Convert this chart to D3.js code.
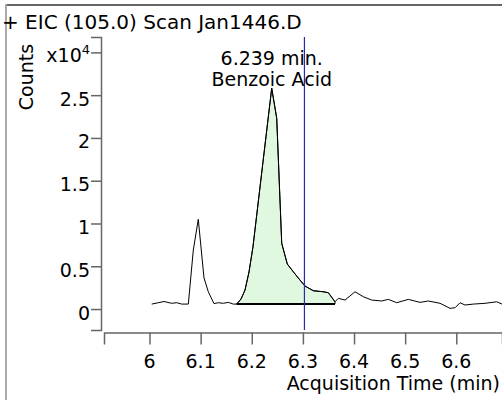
<!DOCTYPE html>
<html>
<head>
<meta charset="utf-8">
<script src="https://cdn.jsdelivr.net/npm/d3@7"></script>
<style>
  html, body { margin: 0; padding: 0; background: #fff; }
  svg { display: block; }
  text { font-family: "DejaVu Sans", Verdana, sans-serif; fill: #000; }
</style>
</head>
<body>
<svg id="chart" width="502" height="400"></svg>
<script>
// ---- data ----
const title = "+ EIC (105.0) Scan Jan1446.D";
const xLabel = "Acquisition Time (min)";
const yLabel = "Counts";
const xTicks = [6, 6.1, 6.2, 6.3, 6.4, 6.5, 6.6];
const xTickLabels = ["6", "6.1", "6.2", "6.3", "6.4", "6.5", "6.6"];
const yTicks = [0, 5000, 10000, 15000, 20000, 25000];
const yTickLabels = ["0", "0.5", "1", "1.5", "2", "2.5"];
const yExpTick = 30000;
const times = [6.0043, 6.0172, 6.0284, 6.0434, 6.0532, 6.0630, 6.0759, 6.0857, 6.0954, 6.1066,
  6.1150, 6.1261, 6.1346, 6.1443, 6.1541, 6.1639, 6.1705, 6.1790, 6.1868, 6.1946,
  6.2024, 6.2194, 6.2390, 6.2488, 6.2586, 6.2695, 6.2812, 6.2943, 6.3041, 6.3204,
  6.3399, 6.3497, 6.3628, 6.3693, 6.3824, 6.4019, 6.4182, 6.4346, 6.4541, 6.4670,
  6.4835, 6.5062, 6.5290, 6.5453, 6.5682, 6.5877, 6.5975, 6.6073, 6.6170, 6.6333,
  6.6562, 6.6791, 6.6894];
const counts = [580, 740, 880, 670, 740, 580, 580, 6900, 10490, 3630,
  2020, 640, 740, 670, 780, 580, 580, 1170, 2220, 4330,
  7290, 15910, 25810, 22300, 7680, 5260, 4360, 3390, 2690, 2140,
  2020, 1910, 850, 1250, 1050, 2020, 1440, 1050, 940, 1130,
  740, 1130, 780, 940, 670, 80, 150, 740, 470, 580,
  670, 850, 580];
const peakStart = 6.1705, peakEnd = 6.3628, peakBaseline = 600;
const peakTime = 6.239;
const peakLabels = ["6.239 min.", "Benzoic Acid"];
const markerTime = 6.303;

// ---- layout ----
const svg = d3.select("#chart");
const x = d3.scaleLinear().domain([5.911, 6.6894]).range([104, 502]);
const y = d3.scaleLinear().domain([-2450, 31800]).range([330, 37]);
const axisColor = "#666";
const fs = 19;

// frame
svg.append("line").attr("x1", 5).attr("x2", 502).attr("y1", 5).attr("y2", 5)
  .attr("stroke", "#666").attr("stroke-width", 2);
svg.append("line").attr("x1", 6).attr("x2", 6).attr("y1", 4).attr("y2", 400)
  .attr("stroke", "#aaa").attr("stroke-width", 2);

// title
svg.append("text").attr("x", 2).attr("y", 29).attr("font-size", 20).text(title);

const pts = times.map((t, i) => [t, counts[i]]);

// peak fill
const inPeak = pts.filter(p => p[0] >= peakStart - 1e-9 && p[0] <= peakEnd + 1e-9);
const poly = [[peakStart, peakBaseline], ...inPeak, [peakEnd, peakBaseline]];
svg.append("path")
  .attr("d", d3.line().x(d => x(d[0])).y(d => y(d[1]))(poly) + "Z")
  .attr("fill", "#e0f8e0").attr("stroke", "#000").attr("stroke-width", 1);

// trace
svg.append("path")
  .attr("d", d3.line().x(d => x(d[0])).y(d => y(d[1]))(pts))
  .attr("fill", "none").attr("stroke", "#000").attr("stroke-width", 1);

// integration baseline
svg.append("line")
  .attr("x1", x(peakStart)).attr("x2", x(peakEnd))
  .attr("y1", y(peakBaseline)).attr("y2", y(peakBaseline))
  .attr("stroke", "#000").attr("stroke-width", 2);

// marker line
svg.append("line")
  .attr("x1", x(markerTime)).attr("x2", x(markerTime))
  .attr("y1", y.range()[1]).attr("y2", y.range()[0])
  .attr("stroke", "#2a2aa8").attr("stroke-width", 1.2);

// peak annotation
svg.append("text").attr("x", x(peakTime)).attr("y", 65).attr("text-anchor", "middle")
  .attr("font-size", fs).text(peakLabels[0]);
svg.append("text").attr("x", x(peakTime)).attr("y", 86).attr("text-anchor", "middle")
  .attr("font-size", fs).text(peakLabels[1]);

// y axis
const yAxis = d3.axisLeft(y).tickValues([...yTicks, yExpTick]).tickSize(10).tickFormat("");
const gy = svg.append("g").attr("transform", "translate(101,0)").call(yAxis);
gy.select(".domain").attr("stroke", axisColor).attr("stroke-width", 1.5);
gy.selectAll(".tick line").attr("stroke", axisColor).attr("stroke-width", 1.5);
yTicks.forEach((v, i) => {
  svg.append("text").attr("x", 90).attr("y", y(v) + 10.5).attr("text-anchor", "end")
    .attr("font-size", fs).text(yTickLabels[i]);
});
const expT = svg.append("text").attr("x", 90).attr("y", y(yExpTick) + 10).attr("text-anchor", "end")
  .attr("font-size", fs);
expT.append("tspan").text("x10");
expT.append("tspan").attr("font-size", 13).attr("dy", -8).text("4");

// x axis
const xAxis = d3.axisBottom(x).tickValues(xTicks).tickSize(12).tickFormat("");
const gx = svg.append("g").attr("transform", "translate(0,332.5)").call(xAxis);
gx.select(".domain").attr("stroke", axisColor).attr("stroke-width", 1.5);
gx.selectAll(".tick line").attr("stroke", axisColor).attr("stroke-width", 1.5);
xTicks.forEach((v, i) => {
  svg.append("text").attr("x", x(v)).attr("y", 368).attr("text-anchor", "middle")
    .attr("font-size", fs).text(xTickLabels[i]);
});

// axis titles
svg.append("text").attr("x", 500).attr("y", 390).attr("text-anchor", "end")
  .attr("font-size", fs).text(xLabel);
svg.append("text").attr("transform", "translate(33,77) rotate(-90)").attr("text-anchor", "middle")
  .attr("font-size", fs).text(yLabel);
</script>
</body>
</html>
